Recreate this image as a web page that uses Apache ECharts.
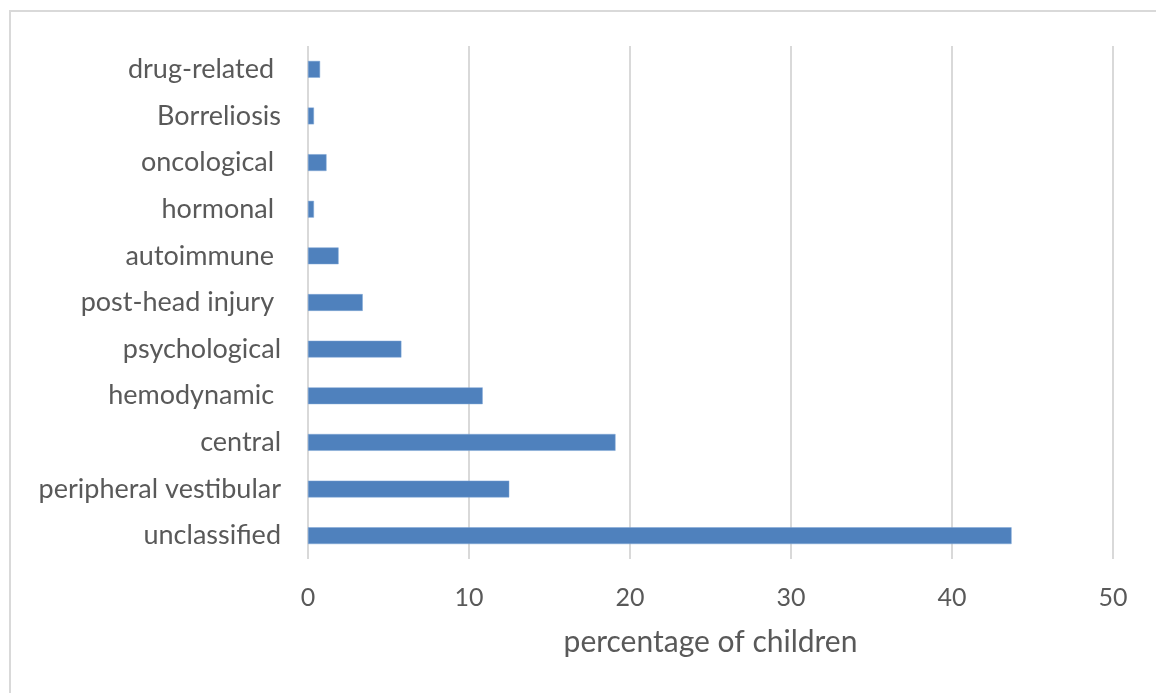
<!DOCTYPE html>
<html>
<head>
<meta charset="utf-8">
<script src="https://cdn.jsdelivr.net/npm/echarts@6/dist/echarts.min.js"></script>
<style>
html,body{margin:0;padding:0;background:#fff;}
#chart{width:1156px;height:693px;}
</style>
</head>
<body>
<div id="chart"></div>
<script>
const categories = ['unclassified','peripheral vestibular','central','hemodynamic ','psychological','post-head injury ','autoimmune ','hormonal ','oncological ','Borreliosis','drug-related '];
const values = [43.7, 12.5, 19.1, 10.85, 5.8, 3.4, 1.9, 0.37, 1.15, 0.37, 0.75];
const xTicks = {min: 0, max: 50, interval: 10};
const axisName = 'percentage of children';

const chart = echarts.init(document.getElementById('chart'));
const font = 'Lato';
chart.setOption({
  animation: false,
  graphic: [{
    type: 'rect',
    shape: {x: 10, y: 11, width: 1200, height: 720},
    style: {fill: 'none', stroke: '#d9d9d9', lineWidth: 2},
    silent: true
  }],
  grid: {left: 308, right: 43, top: 46, bottom: 134, containLabel: false},
  xAxis: {
    type: 'value',
    min: xTicks.min, max: xTicks.max, interval: xTicks.interval,
    name: axisName,
    nameLocation: 'middle',
    nameGap: 68,
    nameTextStyle: {fontFamily: font, fontSize: 30, color: '#595959'},
    axisLine: {show: false},
    axisTick: {show: false},
    axisLabel: {fontFamily: font, fontSize: 25, color: '#595959', margin: 26},
    splitLine: {show: true, lineStyle: {color: '#d9d9d9', width: 2}}
  },
  yAxis: {
    type: 'category',
    data: categories,
    axisLine: {show: false},
    axisTick: {show: false},
    axisLabel: {fontFamily: font, fontSize: 27, color: '#595959', margin: 27}
  },
  series: [{
    type: 'bar',
    data: values,
    barWidth: '36%',
    itemStyle: {color: '#4f81bd', borderColor: '#7fa6d6', borderWidth: 0.5}
  }]
});
</script>
</body>
</html>
